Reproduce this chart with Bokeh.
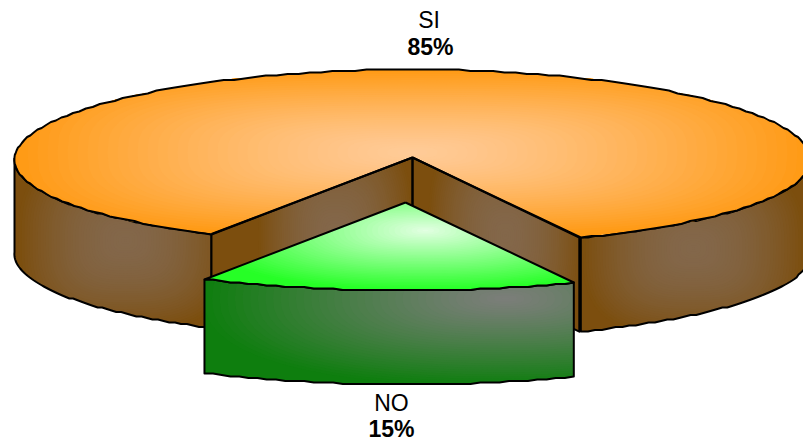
import numpy as np
from bokeh.core.properties import value
from bokeh.embed import file_html
from bokeh.models import ColumnDataSource, Range1d
from bokeh.plotting import figure
from bokeh.resources import INLINE

# Survey result shown as an exploded 3D pie
categories = ["SI", "NO"]
shares = [85, 15]

W, H = 803, 440
ORANGE_CENTER = (412.0, 157.0)
GREEN_CENTER = (405.0, 202.0)
RX, RY, DEPTH = 398.0, 88.0, 94.0
NO_START_DEG = -29.6  # angle of the NO slice's first edge, 0 = front of the pie
PERSPECTIVE = 0.026   # the near side of the rim reads slightly wider than the far side
LEVELS = 40

no_span = 360.0 * shares[1] / sum(shares)
th0 = np.radians(NO_START_DEG)
th1 = np.radians(NO_START_DEG + no_span)


def pt(center, a):
    a = np.asarray(a, dtype=float)
    x = center[0] + RX * np.sin(a) * (1.0 + PERSPECTIVE * np.cos(a))
    y = center[1] + RY * np.cos(a)
    return x, y


def rim(center, a0, a1, n=60):
    """Points along the pie's rim, snapped to a coarse grid for the stepped outline."""
    x, y = pt(center, np.linspace(a0, a1, n))
    return x, np.round(y / 1.5) * 1.5


def clip_convex(sx, sy, cx, cy):
    """Sutherland-Hodgman clip of a polygon against a convex clockwise-on-screen polygon."""
    pts = list(zip(sx, sy))
    n = len(cx)
    for i in range(n):
        if not pts:
            break
        ax, ay, bx, by = cx[i], cy[i], cx[(i + 1) % n], cy[(i + 1) % n]
        side = [(bx - ax) * (q[1] - ay) - (by - ay) * (q[0] - ax) for q in pts]
        out = []
        for j in range(len(pts)):
            k = (j + 1) % len(pts)
            sj, sk = side[j], side[k]
            if sj >= 0:
                out.append(pts[j])
            if (sj >= 0) != (sk >= 0):
                f = sj / (sj - sk)
                out.append((pts[j][0] + f * (pts[k][0] - pts[j][0]),
                            pts[j][1] + f * (pts[k][1] - pts[j][1])))
        pts = out
    return [q[0] for q in pts], [q[1] for q in pts]


p = figure(width=W, height=H, output_backend="svg", toolbar_location=None,
           x_range=Range1d(0, W), y_range=Range1d(H, 0), min_border=0,
           outline_line_color=None, background_fill_color="white", border_fill_color="white")
p.axis.visible = False
p.grid.visible = False

ANGLES = np.linspace(0, 2 * np.pi, 56, endpoint=False)


def shade(xs, ys, c, ax, ay, inner, outer, power=3.0, gamma=1.0):
    """Fill a face with a path gradient built from nested, clipped colour bands."""
    xs, ys = list(map(float, xs)), list(map(float, ys))
    band_x, band_y, colors = [xs], [ys], ["#%02x%02x%02x" % tuple(outer)]
    ux = np.sign(np.cos(ANGLES)) * np.abs(np.cos(ANGLES)) ** (2.0 / power)
    uy = np.sign(np.sin(ANGLES)) * np.abs(np.sin(ANGLES)) ** (2.0 / power)
    for i in range(LEVELS):
        t = 1.0 - (i + 0.5) / LEVELS
        bx, by = clip_convex(xs, ys, c[0] + ax * t * ux, c[1] + ay * t * uy)
        if len(bx) < 3:
            continue
        band_x.append(bx)
        band_y.append(by)
        m = t ** gamma
        colors.append("#%02x%02x%02x" % tuple(
            int(round(inner[k] + (outer[k] - inner[k]) * m)) for k in range(3)))
    p.patches(band_x, band_y, fill_color=colors, line_color=None)


def outline(xs, ys, w=2.0):
    p.line(list(xs), list(ys), line_color="black", line_width=w, line_join="round")


BROWN_EDGE = (124, 78, 14)
BROWN_MID = (131, 103, 74)

# Outer wall of the SI slice: two visible runs either side of the gap
lx, ly = rim(ORANGE_CENTER, -np.pi / 2, th0)
rx, ry = rim(ORANGE_CENTER, th1, np.pi / 2)
left_wall_x = np.r_[lx, lx[::-1]]
left_wall_y = np.r_[ly, ly[::-1] + DEPTH]
right_wall_x = np.r_[rx, rx[::-1]]
right_wall_y = np.r_[ry, ry[::-1] + DEPTH]
shade(left_wall_x, left_wall_y, (125, 240), 108, 90, BROWN_MID, BROWN_EDGE, gamma=1.9)
shade(right_wall_x, right_wall_y, (693, 248), 112, 88, BROWN_MID, BROWN_EDGE, gamma=1.9)
outline(np.r_[left_wall_x, left_wall_x[0]], np.r_[left_wall_y, left_wall_y[0]])
outline(np.r_[right_wall_x, right_wall_x[0]], np.r_[right_wall_y, right_wall_y[0]])

# Top face of the SI slice; its front sector is hidden by the gap's walls
full_x, full_y = rim(ORANGE_CENTER, 0, 2 * np.pi, n=180)
shade(full_x, full_y, (412, 152), 400, 84, (255, 203, 152), (255, 154, 20), gamma=1.3)

# Walls of the gap left by the pulled-out NO slice
cx0, cy0 = pt(ORANGE_CENTER, th0)
cx1, cy1 = pt(ORANGE_CENTER, th1)
ox, oy = ORANGE_CENTER
inner_l_x, inner_l_y = [cx0, ox, ox, cx0], [cy0, oy, oy + DEPTH, cy0 + DEPTH]
inner_r_x, inner_r_y = [ox, cx1 - 1.5, cx1 - 1.5, ox], [oy, cy1, cy1 + DEPTH, oy + DEPTH]
shade(inner_l_x, inner_l_y, (335, 235), 78, 110, BROWN_MID, BROWN_EDGE, gamma=1.9)
shade(inner_r_x, inner_r_y, (505, 235), 78, 110, BROWN_MID, BROWN_EDGE, gamma=1.9)
outline(inner_l_x + inner_l_x[:1], inner_l_y + inner_l_y[:1])
outline(inner_r_x + inner_r_x[:1], inner_r_y + inner_r_y[:1])

# Rim of the SI top face
ax_t, ay_t = rim(ORANGE_CENTER, th1, th0 + 2 * np.pi, n=180)
outline(np.r_[ox, ax_t, ox], np.r_[oy, ay_t, oy])

# NO slice, moved forward from the pie
gx, gy = rim(GREEN_CENTER, th0, th1, n=40)
green_wall_x = np.r_[gx, gx[::-1]]
green_wall_y = np.r_[gy, gy[::-1] + DEPTH]
shade(green_wall_x, green_wall_y, (505, 298), 305, 88, (124, 126, 122), (14, 126, 14),
      power=2.4, gamma=1.2)
outline(np.r_[green_wall_x, green_wall_x[0]], np.r_[green_wall_y, green_wall_y[0]])

gtop_x = np.r_[GREEN_CENTER[0], gx, GREEN_CENTER[0]]
gtop_y = np.r_[GREEN_CENTER[1], gy, GREEN_CENTER[1]]
shade(gtop_x, gtop_y, (425, 230), 225, 60, (228, 255, 228), (38, 255, 38), power=2.4)
outline(gtop_x, gtop_y)

# Category names with their percentages
labels = ColumnDataSource(dict(
    x=[428.5, 430, 391, 391],
    y=[19, 46, 402, 428],
    text=[categories[0], f"{shares[0]}%", categories[1], f"{shares[1]}%"],
    style=["normal", "bold", "normal", "bold"],
))
p.text("x", "y", text="text", source=labels, text_align="center", text_baseline="middle",
       text_font=value("Liberation Sans"), text_font_size="23px", text_font_style="style",
       text_color="black")

open("out.html", "w").write(file_html(p, INLINE))
